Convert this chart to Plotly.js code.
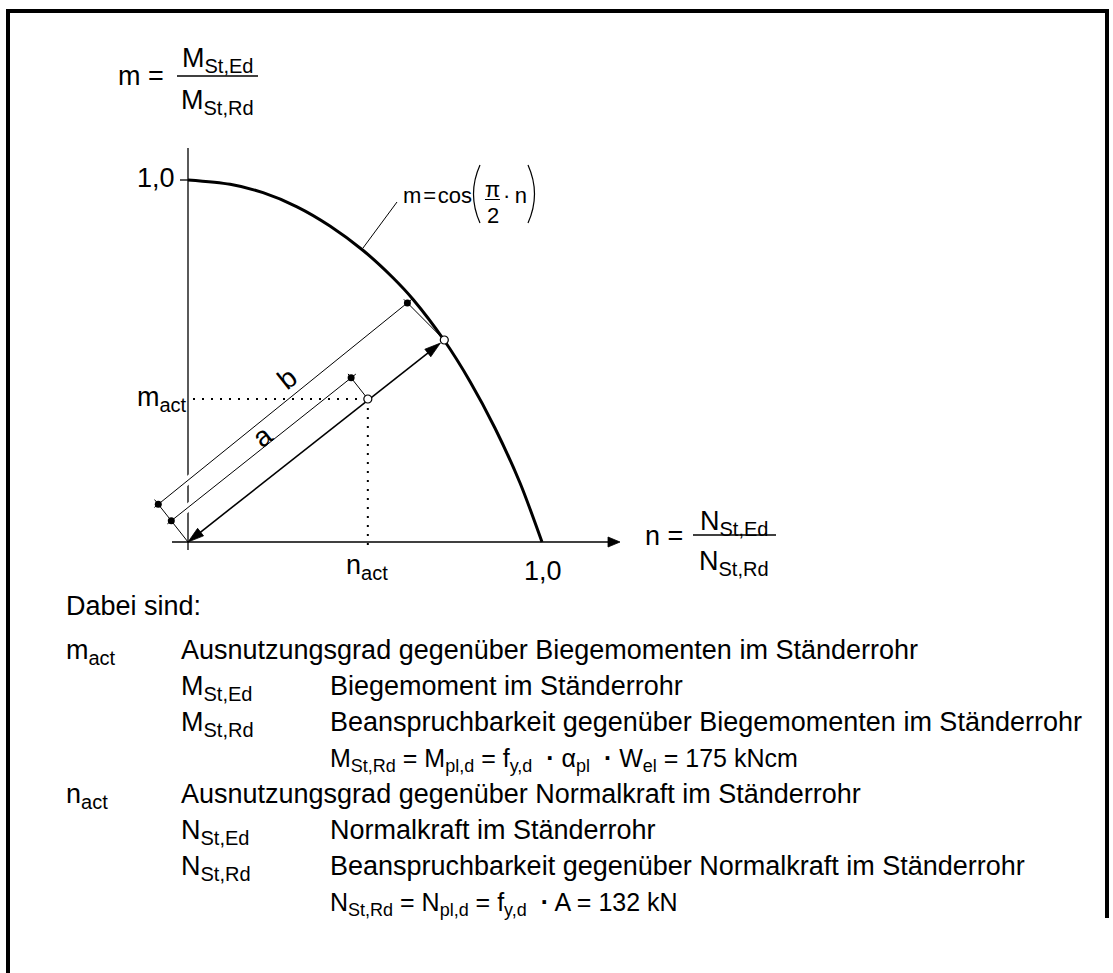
<!DOCTYPE html>
<html><head><meta charset="utf-8">
<script src="https://cdn.plot.ly/plotly-3.0.1.min.js"></script>
<style>html,body{margin:0;padding:0;background:#fff;overflow:hidden}#chart{width:1113px;height:973px}</style>
</head><body><div id="chart"></div>
<script>
// ---------------- data ----------------
const curveN = [0, 0.119, 0.212, 0.308, 0.401, 0.494, 0.579, 0.636, 0.723, 0.797, 0.867, 0.938, 1.0];
const curveM = [1, 0.988, 0.965, 0.926, 0.873, 0.806, 0.730, 0.670, 0.558, 0.443, 0.315, 0.163, 0];
const actPoint = [0.508, 0.395];     // (n_act, m_act)
const curvePoint = [0.724, 0.558];   // intersection of the ray with the curve
const axisTickLabels = ['1,0', '1,0'];
const dimLabels = ['a', 'b'];
const headerText = 'Dabei sind:';
const defSymbols = ['m|act', 'M|St,Ed', 'M|St,Rd', '', 'n|act', 'N|St,Ed', 'N|St,Rd', ''];
const defTexts = [
  'Ausnutzungsgrad gegenüber Biegemomenten im Ständerrohr',
  'Biegemoment im Ständerrohr',
  'Beanspruchbarkeit gegenüber Biegemomenten im Ständerrohr',
  'M|St,Rd = M|pl,d = f|y,d \u00a0<b>·</b> α|pl \u00a0<b>·</b> W|el = 175 kNcm',
  'Ausnutzungsgrad gegenüber Normalkraft im Ständerrohr',
  'Normalkraft im Ständerrohr',
  'Beanspruchbarkeit gegenüber Normalkraft im Ständerrohr',
  'N|St,Rd = N|pl,d = f|y,d \u00a0<b>·</b> A = 132 kN'
];

// ---------------- layout helpers ----------------
const W = 1113, H = 973;
const X0 = 188, Y0 = 542, SX = 354, SY = 362;
const FS = 27, SUBFS = 20;
const toPx = (n, m) => [X0 + n * SX, Y0 - m * SY];
const toData = (x, y) => [(x - X0) / SX, (Y0 - y) / SY];
const FONT = 'Liberation Sans, Arial, Helvetica, sans-serif';
const shapes = [], annotations = [];
const add = (a, b) => [a[0] + b[0], a[1] + b[1]];
const mul = (a, k) => [a[0] * k, a[1] * k];
const sub = (a, b) => [a[0] - b[0], a[1] - b[1]];
const norm = a => { const l = Math.hypot(a[0], a[1]); return [a[0] / l, a[1] / l]; };
// "X|sub" -> X<sub>sub</sub> with a slightly larger subscript than Plotly's default
const fmt = (s, subfs) => s.replace(/([A-Za-zα])\|([A-Za-z,]+)/g,
  (m0, b, t) => b + '<sub><span style="font-size:' + (subfs || SUBFS) + 'px">' + t + '</span></sub>');

function seg(p1, p2, w, extra) {
  const a = toData(p1[0], p1[1]), b = toData(p2[0], p2[1]);
  shapes.push(Object.assign({type: 'line', xref: 'x', yref: 'y', layer: 'below',
    x0: a[0], y0: a[1], x1: b[0], y1: b[1], line: {color: '#000', width: w}}, extra || {}));
}
function pathPx(cmds, extra) {
  const d = cmds.map(c => typeof c === 'string' ? c : toData(c[0], c[1]).join(',')).join(' ');
  shapes.push(Object.assign({type: 'path', xref: 'x', yref: 'y', layer: 'below', path: d,
    line: {color: '#000', width: 1}}, extra || {}));
}
function tri(tip, dir, L, Wd) {
  const d = norm(dir), nrm = [-d[1], d[0]];
  const base = sub(tip, mul(d, L));
  pathPx(['M', tip, 'L', add(base, mul(nrm, Wd)), 'L', add(base, mul(nrm, -Wd)), 'Z'],
    {fillcolor: '#000', line: {color: '#000', width: 0.8}});
}
function txt(str, x, baseline, fs, xanchor, subfs) {
  annotations.push({xref: 'paper', yref: 'paper', x: x / W,
    y: 1 - (baseline - 0.905 * fs) / H, text: fmt(str, subfs), showarrow: false,
    xanchor: xanchor || 'left', yanchor: 'top', borderpad: 0, borderwidth: 0,
    font: {family: FONT, size: fs, color: '#000'}});
}

// ---------------- frame ----------------
seg([8, 9], [8, 973], 4);
seg([6, 11], [1109, 11], 4);
seg([1107, 9], [1107, 918], 4);

// ---------------- geometry from the data ----------------
const O = toPx(0, 0);
const A = toPx(actPoint[0], actPoint[1]);
const P = toPx(curvePoint[0], curvePoint[1]);
const u = norm(sub(P, O));
const pr = [u[1], -u[0]];            // perpendicular, towards upper left

// axes
seg([X0, 148], [X0, 550], 1.3);
seg([172, Y0], [612, Y0], 1.3);
tri([620, Y0], [1, 0], 12, 5);
seg([180, toPx(0, 1)[1]], [X0, toPx(0, 1)[1]], 1.3);

// dimension lines
const a1 = add(O, mul(pr, 27)), a2 = add(A, mul(pr, 27));
const b1 = add(O, mul(pr, 48)), b2 = sub(add(P, mul(pr, 52)), mul(u, 6));
const ub = norm(sub(b2, b1));
[[a1, u], [b1, ub]].forEach(([s, d]) => {
  const t = (X0 - s[0]) / d[0];
  const c = add(s, mul(d, t));
  seg(sub(c, mul(d, 9)), add(c, mul(d, 9)), 8, {line: {color: '#fff', width: 8}});
});
seg(sub(a1, mul(u, 5)), add(a2, mul(u, 6)), 1);
seg(sub(b1, mul(ub, 5)), add(b2, mul(ub, 6)), 1);
seg(O, add(O, mul(pr, 54)), 1);
seg(A, add(A, mul(pr, 32)), 1);
const ue = norm(sub(b2, P));
seg(P, add(b2, mul(ue, 5)), 1);

// main double arrow
const Pend = sub(P, mul(u, 5));
seg(add(O, mul(u, 8)), sub(Pend, mul(u, 8)), 1.6);
tri(O, mul(u, -1), 16, 4.8);
tri(Pend, u, 16, 4.8);

// dotted guide lines
seg([193, A[1]], A, 2, {line: {color: '#000', width: 2, dash: '2px,7px'}});
seg(A, [A[0], 551], 2, {line: {color: '#000', width: 2, dash: '2px,7px'}});

// formula label near the curve: leader, parentheses, fraction bar
seg([363, 248], [397, 202], 1);
pathPx(['M', [480, 165], 'Q', [467, 194], ' ', [480, 223]], {line: {color: '#000', width: 1.2}});
pathPx(['M', [528, 165], 'Q', [541, 194], ' ', [528, 223]], {line: {color: '#000', width: 1.2}});
seg([485, 199.5], [500, 199.5], 1);
// fraction bars
seg([177, 76], [258, 76], 1.5);
seg([693, 535], [776, 535], 1.5);

// ---------------- texts ----------------
txt('m =', 164, 85, FS, 'right');
txt('M|St,Ed', 217, 67, FS, 'center');
txt('M|St,Rd', 217, 109, FS, 'center');
txt('n =', 645, 545, FS, 'left');
txt('N|St,Ed', 734, 530, FS, 'center');
txt('N|St,Rd', 734, 570, FS, 'center');
txt(axisTickLabels[1], 175, 187, FS, 'right');
txt(axisTickLabels[0], 543, 580, FS, 'center');
txt('m|act', 187, 406, FS, 'right');
txt('n|act', 346, 574, FS, 'left');
txt('m\u200a=\u200acos', 403, 203, 22, 'left');
txt('π', 492.5, 197, 22, 'center');
txt('2', 492.5, 223, 22, 'center');
txt('·\u2009n', 503, 203, 22, 'left');
const rot = -Math.atan2(-u[1], u[0]) * 180 / Math.PI;
[[dimLabels[0], [262, 436]], [dimLabels[1], [287, 378]]].forEach(([s, c]) => {
  annotations.push({xref: 'paper', yref: 'paper', x: c[0] / W, y: 1 - c[1] / H, text: s,
    showarrow: false, xanchor: 'center', yanchor: 'middle', textangle: rot,
    font: {family: FONT, size: 28, color: '#000'}});
});

// definitions block
const col = [66, 181, 330];
const indent = [0, 1, 1, 2, 0, 1, 1, 2];
const rowBase = [615, 659, 695, 731, 767, 803, 839, 875, 911];
txt(headerText, col[0], rowBase[0], FS, 'left');
defTexts.forEach((t, i) => {
  const lv = indent[i];
  if (defSymbols[i]) txt(defSymbols[i], col[lv], rowBase[i + 1], FS, 'left');
  if (lv === 2) txt(t, col[2], rowBase[i + 1], 25, 'left', 18);
  else txt(t, col[lv + 1], rowBase[i + 1], FS, 'left');
});

// ---------------- traces ----------------
const dotsPx = [a1, a2, b1, b2].map(p => toData(p[0], p[1]));
const traces = [
  {x: curveN, y: curveM, mode: 'lines', line: {color: '#000', width: 3, shape: 'spline', smoothing: 0.8},
   hoverinfo: 'skip'},
  {x: dotsPx.map(d => d[0]), y: dotsPx.map(d => d[1]), mode: 'markers',
   marker: {color: '#000', size: 7}, hoverinfo: 'skip'},
  {x: [actPoint[0], curvePoint[0]], y: [actPoint[1], curvePoint[1]], mode: 'markers',
   marker: {color: '#fff', size: 8, line: {color: '#000', width: 1.2}}, hoverinfo: 'skip'}
];

const layout = {
  width: W, height: H, margin: {l: 0, r: 0, t: 0, b: 0, pad: 0},
  paper_bgcolor: '#fff', plot_bgcolor: '#fff', showlegend: false,
  font: {family: FONT, size: FS, color: '#000'},
  xaxis: {range: [toData(0, 0)[0], toData(W, 0)[0]], visible: false, fixedrange: true},
  yaxis: {range: [toData(0, H)[1], toData(0, 0)[1]], visible: false, fixedrange: true},
  shapes: shapes, annotations: annotations
};
Plotly.newPlot('chart', traces, layout, {staticPlot: true, displayModeBar: false});
</script>
</body></html>
